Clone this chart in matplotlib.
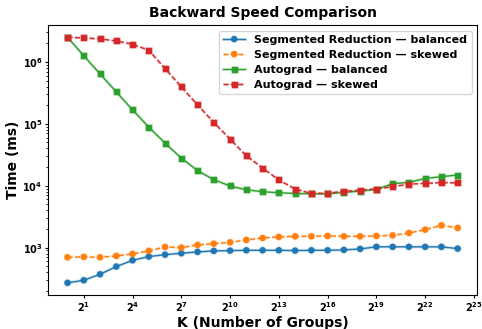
import matplotlib
matplotlib.use("Agg")
import matplotlib.pyplot as plt
import matplotlib.patheffects as pe
import numpy as np

# K = 2^0 .. 2^24
exponents = list(range(25))
K = [2 ** e for e in exponents]

seg_balanced = [270, 297, 371, 495, 624, 716, 771, 810, 853, 885, 895, 906, 906,
                906, 895, 906, 906, 918, 953, 1030, 1030, 1030, 1030, 1030, 964]
seg_skewed = [698, 708, 698, 735, 791, 885, 1026, 1000, 1105, 1160, 1218, 1331, 1433,
              1488, 1521, 1521, 1545, 1521, 1521, 1545, 1579, 1725, 1951, 2290, 2080]
auto_balanced = [2.50e6, 1.26e6, 6.40e5, 3.28e5, 1.68e5, 8.85e4, 4.89e4, 2.80e4, 1.75e4,
                 1.25e4, 9.9e3, 8.6e3, 8.0e3, 7.7e3, 7.5e3, 7.4e3, 7.4e3, 7.8e3, 8.2e3,
                 8.7e3, 1.08e4, 1.13e4, 1.31e4, 1.40e4, 1.49e4]
auto_skewed = [2.50e6, 2.44e6, 2.35e6, 2.18e6, 1.93e6, 1.54e6, 7.8e5, 3.95e5, 2.02e5,
               1.05e5, 5.66e4, 3.05e4, 1.93e4, 1.24e4, 8.85e3, 7.5e3, 7.55e3, 8.15e3,
               8.45e3, 8.85e3, 9.64e3, 1.06e4, 1.09e4, 1.12e4, 1.11e4]

series = [
    ("Segmented Reduction — balanced", seg_balanced, "#1f77b4", "-", "o"),
    ("Segmented Reduction — skewed", seg_skewed, "#ff7f0e", "--", "o"),
    ("Autograd — balanced", auto_balanced, "#2ca02c", "-", "s"),
    ("Autograd — skewed", auto_skewed, "#d62728", "--", "s"),
]

fig = plt.figure(figsize=(4.82, 3.29), dpi=100)
ax = fig.add_axes([0.0996, 0.103, 0.8904, 0.821])

for label, vals, color, ls, mk in series:
    ax.plot(K, vals, linestyle=ls, marker=mk, color=color, linewidth=1.0,
            markersize=3.6, label=label,
            path_effects=[pe.Stroke(linewidth=2.2, foreground=color, alpha=0.2), pe.Normal()])

ax.set_xscale("log", base=2)
ax.set_yscale("log")
ax.set_xticks([2 ** e for e in range(1, 26, 3)])
ax.tick_params(axis="both", which="major", labelsize=7, length=2.5, pad=1.5)
ax.tick_params(axis="both", which="minor", length=1.5)
for t in ax.get_xticklabels() + ax.get_yticklabels():
    t.set_fontweight("bold")

ax.set_title("Backward Speed Comparison", fontsize=10, fontweight="bold", pad=6)
ax.set_xlabel("K (Number of Groups)", fontsize=10, fontweight="bold", labelpad=1)
ax.set_ylabel("Time (ms)", fontsize=10, fontweight="bold", labelpad=2)

leg = ax.legend(loc="upper right", prop={"weight": "bold", "size": 8},
                handlelength=2.0, borderpad=0.4, labelspacing=0.45)

fig.savefig("out.png", dpi=100)
